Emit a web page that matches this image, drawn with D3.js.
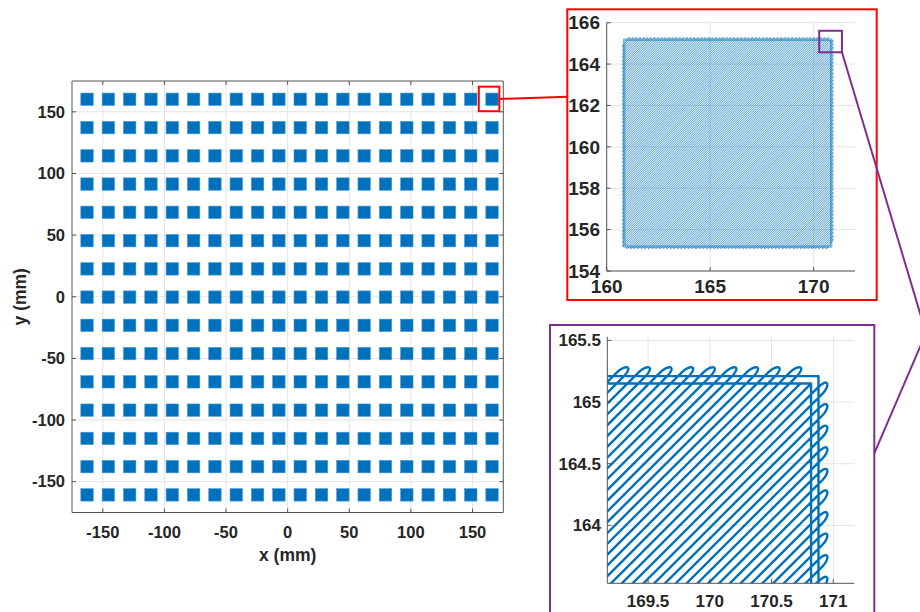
<!DOCTYPE html>
<html><head><meta charset="utf-8">
<script src="https://cdn.jsdelivr.net/npm/d3@7"></script>
<style>
html,body{margin:0;padding:0;background:#fff;}
svg{display:block;}
text{font-family:"Liberation Sans",Arial,sans-serif;font-weight:bold;fill:#262626;}
</style>
</head><body>
<svg id="c" width="920" height="612"></svg>
<script>
// ---------------- data ----------------
const xTicks = [-150, -100, -50, 0, 50, 100, 150];
const yTicks = [-150, -100, -50, 0, 50, 100, 150];
// pad centres (mm) of the 20 x 15 array
const padCentersX = [-162.8, -145.5, -128.2, -110.9, -93.6, -76.3, -59.0, -41.7, -24.4, -7.1,
                     10.2, 27.5, 44.8, 62.1, 79.4, 96.7, 114.0, 131.3, 148.6, 165.85];
const padCentersY = [160.18, 137.2, 114.3, 91.4, 68.5, 45.5, 22.6, -0.3, -23.2, -46.1,
                     -69.0, -92.0, -114.9, -137.8, -160.7];
const padSize = 10.1;
// zoom box drawn on main plot (mm)
const zoom1Box = {x0: 155.1, x1: 171.8, y0: 150.5, y1: 170.4};
// inset 1
const inset1XTicks = [160, 165, 170];
const inset1YTicks = [154, 156, 158, 160, 162, 164, 166];
const zoom2Box = {x0: 170.27, x1: 171.37, y0: 164.57, y1: 165.61};
// inset 2
const inset2XTicks = [169.5, 170, 170.5, 171];
const inset2YTicks = [164, 164.5, 165, 165.5];
// toolpath of the top-right pad
const padCenter = [165.85, 160.18];
const hatchHalf = 4.97;
const contourHalves = [4.97, 5.03];
const hatchStep = 0.0875;

// ---------------- drawing ----------------
const svg = d3.select('#c');
const BLUE = '#0072bd', RED = '#ff0000', PURPLE = '#7e2f8e';

function drawFrame(g, x, y, xt, yt) {
  const [x0, x1] = x.range(), [y0, y1] = y.range();
  const gg = g.append('g');
  gg.selectAll('.gx').data(xt).join('line')
    .attr('x1', d => x(d)).attr('x2', d => x(d)).attr('y1', y0).attr('y2', y1)
    .attr('stroke', '#e4e4e4').attr('stroke-width', 1);
  gg.selectAll('.gy').data(yt).join('line')
    .attr('y1', d => y(d)).attr('y2', d => y(d)).attr('x1', x0).attr('x2', x1)
    .attr('stroke', '#e4e4e4').attr('stroke-width', 1);
  return gg;
}

function drawAxes(g, x, y, xt, yt, o) {
  const [x0, x1] = x.range(), [y0, y1] = y.range();
  const ax = g.append('g');
  const col = '#555';
  ax.append('line').attr('x1', x0).attr('x2', x0).attr('y1', y0).attr('y2', y1).attr('stroke', col);
  ax.append('line').attr('x1', x0).attr('x2', x1).attr('y1', y0).attr('y2', y0).attr('stroke', col);
  if (o.box) {
    ax.append('line').attr('x1', x1).attr('x2', x1).attr('y1', y0).attr('y2', y1).attr('stroke', col);
    ax.append('line').attr('x1', x0).attr('x2', x1).attr('y1', y1).attr('y2', y1).attr('stroke', col);
  }
  const tl = o.tickLen;
  xt.forEach(v => {
    ax.append('line').attr('x1', x(v)).attr('x2', x(v)).attr('y1', y0).attr('y2', y0 - tl).attr('stroke', col);
    if (o.box) ax.append('line').attr('x1', x(v)).attr('x2', x(v)).attr('y1', y1).attr('y2', y1 + tl).attr('stroke', col);
    ax.append('text').attr('x', x(v)).attr('y', o.xLabelY).attr('text-anchor', 'middle')
      .style('font-size', o.fs + 'px').text(String(v));
  });
  yt.forEach(v => {
    ax.append('line').attr('x1', x0).attr('x2', x0 + tl).attr('y1', y(v)).attr('y2', y(v)).attr('stroke', col);
    if (o.box) ax.append('line').attr('x1', x1).attr('x2', x1 - tl).attr('y1', y(v)).attr('y2', y(v)).attr('stroke', col);
    ax.append('text').attr('x', o.yLabelX).attr('y', y(v)).attr('dy', '0.35em').attr('text-anchor', 'end')
      .style('font-size', o.fs + 'px').text(String(v));
  });
}

// ---- main chart ----
const mx = d3.scaleLinear().domain([-175, 175]).range([72, 503.3]);
const my = d3.scaleLinear().domain([-175, 175]).range([512.5, 81]);
const mg = svg.append('g');
drawFrame(mg, mx, my, xTicks, yTicks);
const pads = [];
padCentersY.forEach(cy => padCentersX.forEach(cx => pads.push({cx, cy})));
mg.append('g').selectAll('rect').data(pads).join('rect')
  .attr('x', d => mx(d.cx - padSize / 2))
  .attr('y', d => my(d.cy + padSize / 2))
  .attr('width', d => mx(d.cx + padSize / 2) - mx(d.cx - padSize / 2))
  .attr('height', d => my(d.cy - padSize / 2) - my(d.cy + padSize / 2))
  .attr('fill', BLUE).attr('stroke', '#4b9bd6').attr('stroke-width', 0.6);
drawAxes(mg, mx, my, xTicks, yTicks, {box: true, tickLen: 4, fs: 16.5, xLabelY: 538, yLabelX: 65});
mg.append('text').attr('x', mx(0)).attr('y', 561).attr('text-anchor', 'middle')
  .style('font-size', '17.5px').text('x (mm)');
mg.append('text').attr('transform', `translate(26,${my(0)}) rotate(-90)`).attr('text-anchor', 'middle')
  .style('font-size', '17.5px').text('y (mm)');
mg.append('rect')
  .attr('x', mx(zoom1Box.x0)).attr('y', my(zoom1Box.y1))
  .attr('width', mx(zoom1Box.x1) - mx(zoom1Box.x0)).attr('height', my(zoom1Box.y0) - my(zoom1Box.y1))
  .attr('fill', 'none').attr('stroke', RED).attr('stroke-width', 2);

// ---- toolpath generator ----
function toolpath(xs, ys) {
  const [cx, cy] = padCenter, h = hatchHalf;
  const xl = cx - h, xr = cx + h, yb = cy - h, yt = cy + h;
  const cmin = xl - yt, cmax = xr - yb;
  const n = Math.floor((cmax - cmin) / hatchStep);
  const c0 = cmin + ((cmax - cmin) - (n - 1) * hatchStep) / 2;
  const lines = [];
  for (let k = 0; k < n; k++) {
    const c = c0 + k * hatchStep;
    const lx = Math.max(xl, yb + c), hx = Math.min(xr, yt + c);
    lines.push({lo: [lx, lx - c], loEdge: (yb + c > xl) ? 'b' : 'l',
                hi: [hx, hx - c], hiEdge: (yt + c < xr) ? 't' : 'r'});
  }
  const P = p => xs(p[0]).toFixed(2) + ',' + ys(p[1]).toFixed(2);
  const ad = (p, a, b) => [p[0] + a, p[1] + b];
  const A = .095, Cc = .15, B = .05;
  let d = 'M' + P(lines[0].lo) + 'L' + P(lines[0].hi);
  for (let k = 0; k < n - 1; k++) {
    const a = lines[k], b = lines[k + 1];
    if (k % 2 === 0) {
      if (a.hiEdge === 't' && b.hiEdge === 't') {
        d += 'L' + P(ad(a.hi, A, A)) + 'C' + P(ad(a.hi, Cc, Cc)) + ' ' + P(ad(b.hi, Cc, Cc)) + ' ' + P(ad(b.hi, B, B)) + 'L' + P(b.hi);
      } else if (a.hiEdge === 'r' && b.hiEdge === 'r') {
        d += 'L' + P(ad(a.hi, B, B)) + 'C' + P(ad(a.hi, Cc, Cc)) + ' ' + P(ad(b.hi, Cc, Cc)) + ' ' + P(ad(b.hi, A, A)) + 'L' + P(b.hi);
      } else d += 'L' + P(b.hi);
      d += 'L' + P(b.lo);
    } else {
      if (a.loEdge === 'b' && b.loEdge === 'b') {
        d += 'L' + P(ad(a.lo, -B, -B)) + 'C' + P(ad(a.lo, -Cc, -Cc)) + ' ' + P(ad(b.lo, -Cc, -Cc)) + ' ' + P(ad(b.lo, -A, -A)) + 'L' + P(b.lo);
      } else if (a.loEdge === 'l' && b.loEdge === 'l') {
        d += 'L' + P(ad(a.lo, -A, -A)) + 'C' + P(ad(a.lo, -Cc, -Cc)) + ' ' + P(ad(b.lo, -Cc, -Cc)) + ' ' + P(ad(b.lo, -B, -B)) + 'L' + P(b.lo);
      } else d += 'L' + P(b.lo);
      d += 'L' + P(b.hi);
    }
  }
  contourHalves.forEach(hh => {
    d += 'M' + P([cx - hh, cy - hh]) + 'L' + P([cx + hh, cy - hh]) + 'L' + P([cx + hh, cy + hh]) +
         'L' + P([cx - hh, cy + hh]) + 'Z';
  });
  return d;
}

// ---- inset 1 ----
const i1x = d3.scaleLinear().domain([160, 172]).range([606.7, 855]);
const i1y = d3.scaleLinear().domain([154, 166]).range([271, 22.7]);
const g1 = svg.append('g');
drawFrame(g1, i1x, i1y, inset1XTicks, inset1YTicks);
g1.append('path').attr('d', toolpath(i1x, i1y)).attr('fill', 'none')
  .attr('stroke', BLUE).attr('stroke-width', 0.75).attr('stroke-opacity', 0.85);
drawAxes(g1, i1x, i1y, inset1XTicks, inset1YTicks, {box: false, tickLen: 4, fs: 19, xLabelY: 293, yLabelX: 600});
g1.append('rect')
  .attr('x', i1x(zoom2Box.x0)).attr('y', i1y(zoom2Box.y1))
  .attr('width', i1x(zoom2Box.x1) - i1x(zoom2Box.x0)).attr('height', i1y(zoom2Box.y0) - i1y(zoom2Box.y1))
  .attr('fill', 'none').attr('stroke', PURPLE).attr('stroke-width', 2);
svg.append('rect').attr('x', 567.3).attr('y', 9.3).attr('width', 309.4).attr('height', 290.7)
  .attr('fill', 'none').attr('stroke', RED).attr('stroke-width', 2);

// ---- inset 2 ----
const i2x = d3.scaleLinear().domain([169.17, 171.17]).range([607.3, 854.3]);
const i2y = d3.scaleLinear().domain([163.53, 165.53]).range([583.3, 336.7]);
const g2 = svg.append('g');
drawFrame(g2, i2x, i2y, inset2XTicks, inset2YTicks);
svg.append('clipPath').attr('id', 'clip2').append('rect')
  .attr('x', 607.3).attr('y', 336.7).attr('width', 247).attr('height', 246.6);
g2.append('path').attr('d', toolpath(i2x, i2y)).attr('clip-path', 'url(#clip2)').attr('fill', 'none')
  .attr('stroke', BLUE).attr('stroke-width', 2.4).attr('stroke-linejoin', 'round');
drawAxes(g2, i2x, i2y, inset2XTicks, inset2YTicks, {box: false, tickLen: 4, fs: 17, xLabelY: 607, yLabelX: 601});
svg.append('rect').attr('x', 550).attr('y', 325).attr('width', 324.3).attr('height', 300)
  .attr('fill', 'none').attr('stroke', PURPLE).attr('stroke-width', 2);

// ---- connectors ----
svg.append('line')
  .attr('x1', mx(zoom1Box.x1)).attr('y1', my((zoom1Box.y0 + zoom1Box.y1) / 2))
  .attr('x2', 567.3).attr('y2', 96.7)
  .attr('stroke', RED).attr('stroke-width', 2);
svg.append('polyline')
  .attr('points', `${i1x(zoom2Box.x1)},${i1y(zoom2Box.y0)} 926,333 874.3,453.3`)
  .attr('fill', 'none').attr('stroke', PURPLE).attr('stroke-width', 2);
</script>
</body></html>
